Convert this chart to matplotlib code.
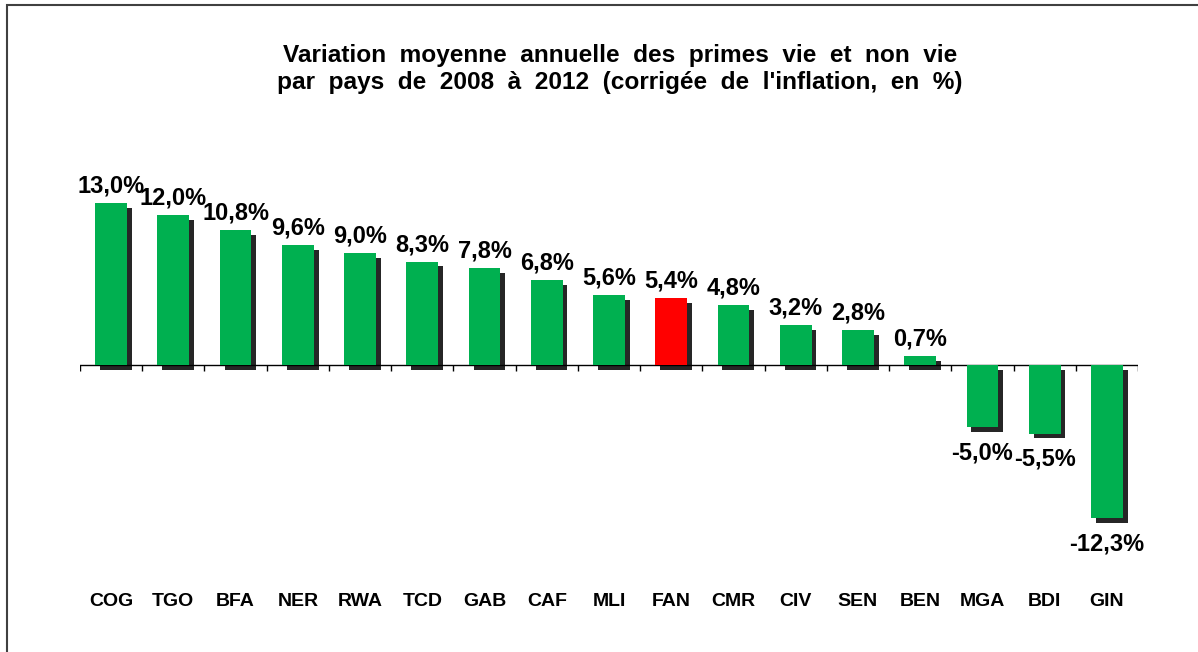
import matplotlib
matplotlib.use('Agg')
import matplotlib.pyplot as plt
import matplotlib.patheffects as pe
from matplotlib.patches import Rectangle

plt.rcParams['font.family'] = ['Liberation Sans', 'DejaVu Sans']

# data
pays = ['COG', 'TGO', 'BFA', 'NER', 'RWA', 'TCD', 'GAB', 'CAF', 'MLI',
        'FAN', 'CMR', 'CIV', 'SEN', 'BEN', 'MGA', 'BDI', 'GIN']
variation = [13.0, 12.0, 10.8, 9.6, 9.0, 8.3, 7.8, 6.8, 5.6,
             5.4, 4.8, 3.2, 2.8, 0.7, -5.0, -5.5, -12.3]
labels = ['13,0%', '12,0%', '10,8%', '9,6%', '9,0%', '8,3%', '7,8%', '6,8%', '5,6%',
          '5,4%', '4,8%', '3,2%', '2,8%', '0,7%', '-5,0%', '-5,5%', '-12,3%']
highlight = 'FAN'
titre = ['Variation moyenne annuelle des primes vie et non vie',
         "par pays de 2008 à 2012 (corrigée de l'inflation, en %)"]

W, H = 1198, 652
fig = plt.figure(figsize=(W / 100, H / 100), dpi=100)

# frame around the chart (right / bottom edges fall outside the picture)
fig.patches.append(Rectangle((7 / W, -0.05), 1.1, (H - 5) / H + 0.05,
                             transform=fig.transFigure, fill=False,
                             edgecolor='#404040', linewidth=1.5))

# axes placed so that 0 sits at y=365 px, 12.46 px per %
ymin, ymax = -20, 20
pxp = 12.46
h_px = (ymax - ymin) * pxp
top_px = 365 - ymax * pxp
ax = fig.add_axes([80 / W, (H - top_px - h_px) / H, (1138 - 80) / W, h_px / H])
ax.set_xlim(-0.5, len(pays) - 0.5)
ax.set_ylim(ymin, ymax)

colors = ['#FF0000' if p == highlight else '#00B050' for p in pays]
x = list(range(len(pays)))
bars = ax.bar(x, variation, width=0.51, color=colors, zorder=3)
for b in bars:
    b.set_path_effects([pe.SimplePatchShadow(offset=(3.5, -3.5), shadow_rgbFace='black', alpha=0.85),
                        pe.Normal()])

for xi, v, lab in zip(x, variation, labels):
    if v >= 0:
        ax.annotate(lab, (xi, v), xytext=(0, 4), textcoords='offset points',
                    ha='center', va='bottom', fontsize=17, fontweight='bold')
    else:
        ax.annotate(lab, (xi, v), xytext=(0, -10), textcoords='offset points',
                    ha='center', va='top', fontsize=17, fontweight='bold')

# category names under the chart
for xi, p in zip(x, pays):
    ax.text(xi, (365 - 602) / pxp, p, ha='center', va='center',
            fontsize=14, fontweight='bold')

# zero line with ticks between categories
ax.axhline(0, color='black', linewidth=1, zorder=2)
ax.vlines([i - 0.5 for i in range(len(pays) + 1)], -6 / pxp, 0,
          color='black', linewidth=1, zorder=2)

for s in ax.spines.values():
    s.set_visible(False)
ax.set_xticks([])
ax.set_yticks([])

# title has wide word spacing in the original
for ligne, yb in zip(titre, [62, 89]):
    fig.text(620 / W, 1 - yb / H, '  '.join(ligne.split(' ')),
             ha='center', va='baseline', fontsize=17.6, fontweight='bold')

fig.savefig('out.png', dpi=100)
